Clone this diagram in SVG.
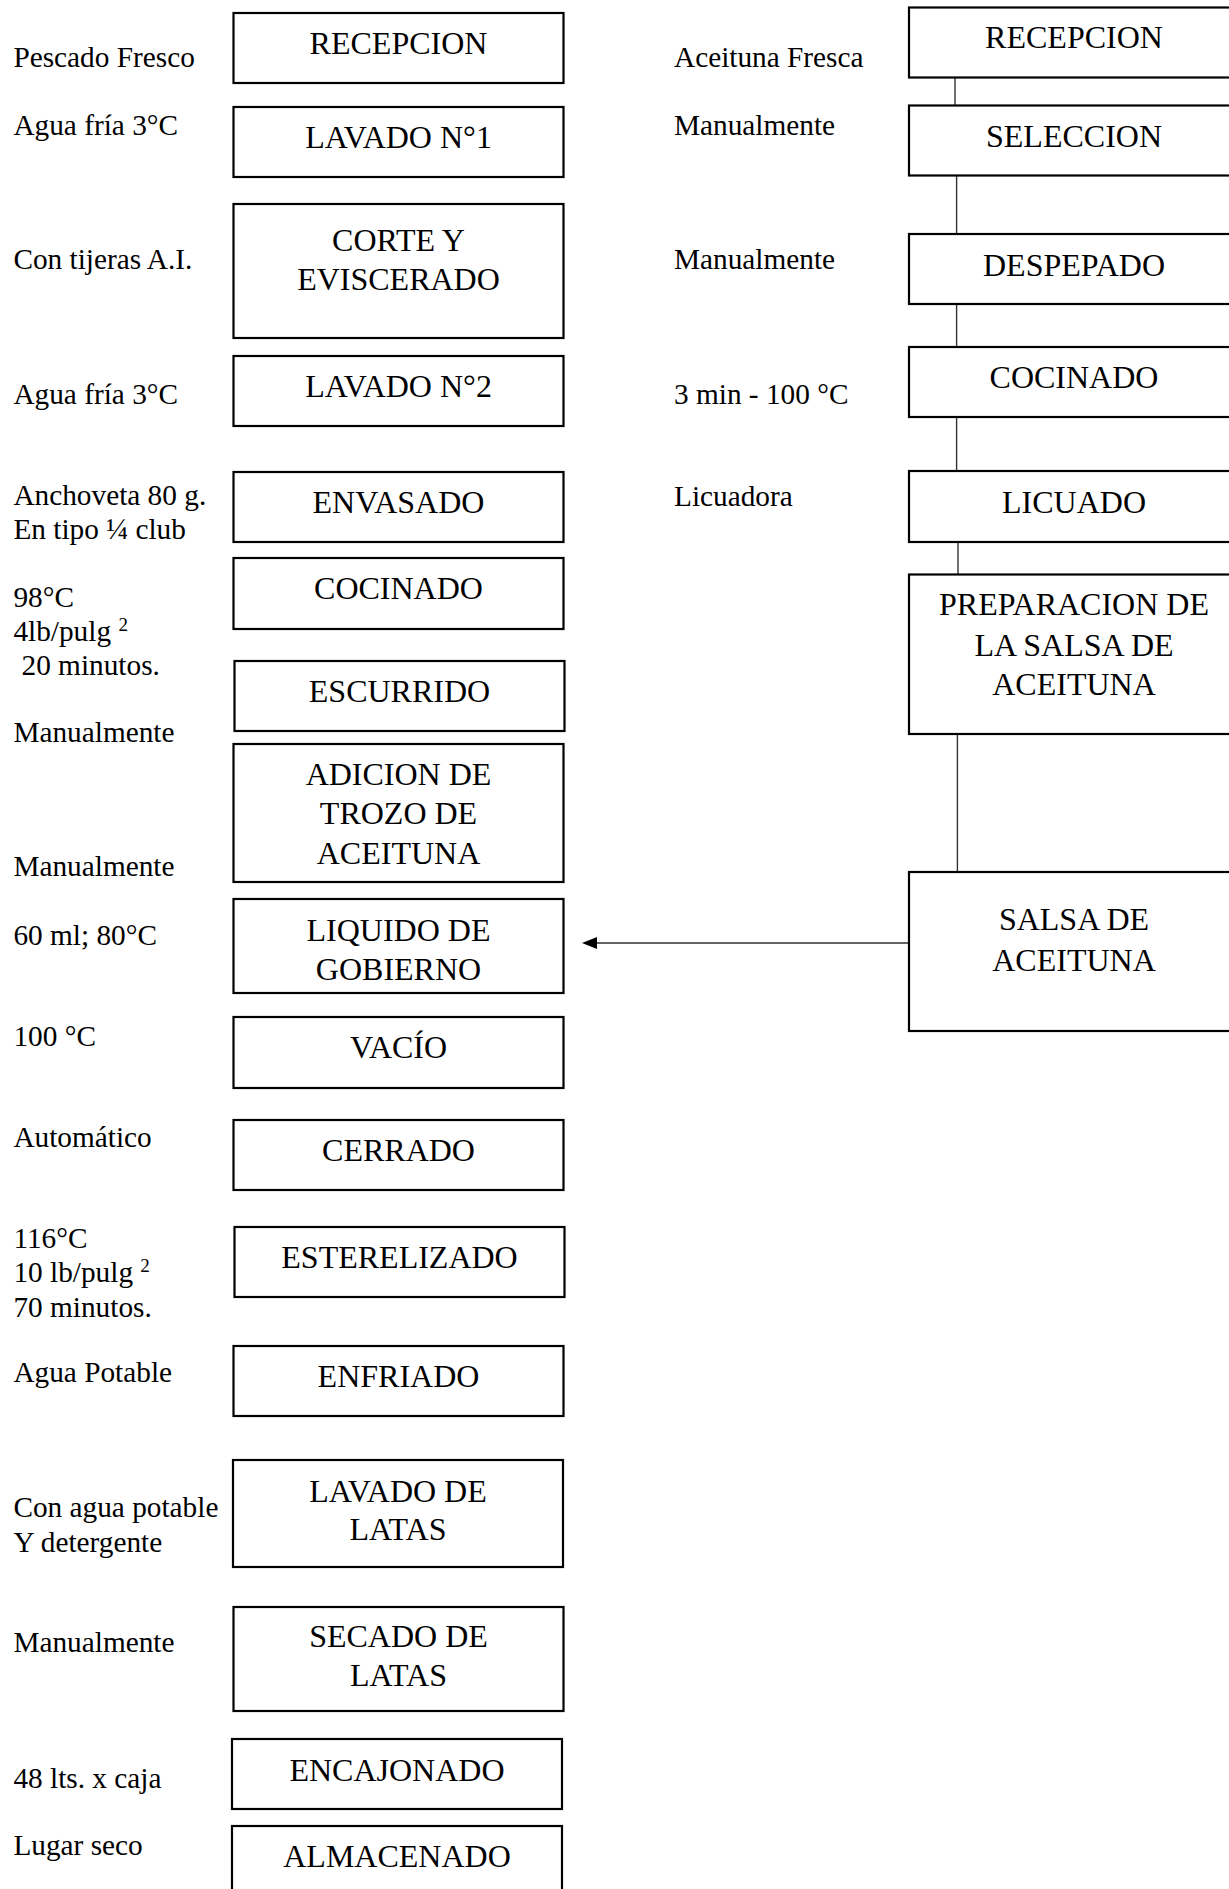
<svg xmlns="http://www.w3.org/2000/svg" width="1229" height="1889" viewBox="0 0 1229 1889">
<style>
.box{fill:#fff;stroke:#000;stroke-width:2.2}
.t{font-family:"Liberation Serif","Times New Roman",serif;font-size:32px;fill:#000;text-anchor:middle}
.l{font-family:"Liberation Serif","Times New Roman",serif;font-size:29.3px;fill:#000}
.sup{font-size:19px}
.c{stroke:#333;stroke-width:1.4;fill:none}
</style>
<defs>
<marker id="ah" viewBox="0 0 15 12" refX="0" refY="6" markerWidth="15" markerHeight="12" markerUnits="userSpaceOnUse" orient="auto-start-reverse">
<path d="M0,0 L15,6 L0,12 z" fill="#000"/>
</marker>
</defs>
<rect width="1229" height="1889" fill="#fff"/>

<g id="labels-left">
<text class="l" x="13.4" y="66.7">Pescado Fresco</text>
<text class="l" x="13.4" y="135">Agua fría 3°C</text>
<text class="l" x="13.4" y="269.3">Con tijeras A.I.</text>
<text class="l" x="13.4" y="404">Agua fría 3°C</text>
<text class="l" x="13.4" y="505">Anchoveta 80 g.</text>
<text class="l" x="13.4" y="539.3">En tipo ¼ club</text>
<text class="l" x="13.4" y="606.7">98°C</text>
<text class="l" x="13.4" y="640.7">4lb/pulg <tspan class="sup" dy="-10">2</tspan></text>
<text class="l" x="21.5" y="675">20 minutos.</text>
<text class="l" x="13.4" y="741.7">Manualmente</text>
<text class="l" x="13.4" y="875.7">Manualmente</text>
<text class="l" x="13.4" y="945">60 ml; 80°C</text>
<text class="l" x="13.4" y="1046">100 °C</text>
<text class="l" x="13.4" y="1146.7">Automático</text>
<text class="l" x="13.4" y="1248.3">116°C</text>
<text class="l" x="13.4" y="1281.7">10 lb/pulg <tspan class="sup" dy="-10">2</tspan></text>
<text class="l" x="13.4" y="1316.7">70 minutos.</text>
<text class="l" x="13.4" y="1381.7">Agua Potable</text>
<text class="l" x="13.4" y="1517.3">Con agua potable</text>
<text class="l" x="13.4" y="1551.7">Y detergente</text>
<text class="l" x="13.4" y="1652.3">Manualmente</text>
<text class="l" x="13.4" y="1788.3">48 lts. x caja</text>
<text class="l" x="13.4" y="1855">Lugar seco</text>
</g>

<g id="labels-right">
<text class="l" x="674" y="66.7">Aceituna Fresca</text>
<text class="l" x="674" y="135">Manualmente</text>
<text class="l" x="674" y="269.3">Manualmente</text>
<text class="l" x="674" y="404.3">3 min - 100 °C</text>
<text class="l" x="674" y="505.5">Licuadora</text>
</g>

<g id="connectors">
<line class="c" x1="955" y1="77" x2="955" y2="106"/>
<line class="c" x1="956.6" y1="174" x2="956.6" y2="234"/>
<line class="c" x1="956.6" y1="304" x2="956.6" y2="347"/>
<line class="c" x1="956.6" y1="417" x2="956.6" y2="471"/>
<line class="c" x1="958" y1="542" x2="958" y2="575"/>
<line class="c" x1="957.4" y1="734" x2="957.4" y2="872"/>
<line class="c" x1="909" y1="943" x2="597" y2="943" marker-end="url(#ah)"/>
</g>

<g id="n-recepcion"><rect class="box" x="233.5" y="13" width="330" height="70"/><text class="t" x="398.5" y="54">RECEPCION</text></g>
<g id="n-lavado1"><rect class="box" x="233.5" y="107" width="330" height="70"/><text class="t" x="398.5" y="147.7">LAVADO N°1</text></g>
<g id="n-corte"><rect class="box" x="233.5" y="204" width="330" height="134"/><text class="t" x="398.5" y="250.7">CORTE Y</text><text class="t" x="398.5" y="290">EVISCERADO</text></g>
<g id="n-lavado2"><rect class="box" x="233.5" y="356" width="330" height="70"/><text class="t" x="398.5" y="397.3">LAVADO N°2</text></g>
<g id="n-envasado"><rect class="box" x="233.5" y="472" width="330" height="70"/><text class="t" x="398.5" y="512.7">ENVASADO</text></g>
<g id="n-cocinado"><rect class="box" x="233.5" y="558" width="330" height="71"/><text class="t" x="398.5" y="599.3">COCINADO</text></g>
<g id="n-escurrido"><rect class="box" x="234.5" y="661" width="330" height="70"/><text class="t" x="399.5" y="702.3">ESCURRIDO</text></g>
<g id="n-adicion"><rect class="box" x="233.5" y="744" width="330" height="138"/><text class="t" x="398.5" y="785">ADICION DE</text><text class="t" x="398.5" y="824">TROZO DE</text><text class="t" x="398.5" y="864.3">ACEITUNA</text></g>
<g id="n-liquido"><rect class="box" x="233.5" y="899" width="330" height="94"/><text class="t" x="398.5" y="940.7">LIQUIDO DE</text><text class="t" x="398.5" y="980">GOBIERNO</text></g>
<g id="n-vacio"><rect class="box" x="233.5" y="1017" width="330" height="71"/><text class="t" x="398.5" y="1058.3">VACÍO</text></g>
<g id="n-cerrado"><rect class="box" x="233.5" y="1120" width="330" height="70"/><text class="t" x="398.5" y="1161">CERRADO</text></g>
<g id="n-esterelizado"><rect class="box" x="234.5" y="1227" width="330" height="70"/><text class="t" x="399.5" y="1267.7">ESTERELIZADO</text></g>
<g id="n-enfriado"><rect class="box" x="233.5" y="1346" width="330" height="70"/><text class="t" x="398.5" y="1386.7">ENFRIADO</text></g>
<g id="n-lavado-latas"><rect class="box" x="233" y="1460" width="330" height="107"/><text class="t" x="398" y="1501.7">LAVADO DE</text><text class="t" x="398" y="1540">LATAS</text></g>
<g id="n-secado-latas"><rect class="box" x="233.5" y="1607" width="330" height="104"/><text class="t" x="398.5" y="1647.3">SECADO DE</text><text class="t" x="398.5" y="1686">LATAS</text></g>
<g id="n-encajonado"><rect class="box" x="232" y="1739" width="330" height="70"/><text class="t" x="397" y="1780.7">ENCAJONADO</text></g>
<g id="n-almacenado"><rect class="box" x="232" y="1826" width="330" height="100"/><text class="t" x="397" y="1867.3">ALMACENADO</text></g>

<g id="r-recepcion"><rect class="box" x="909" y="7.5" width="330" height="70"/><text class="t" x="1074" y="48.3">RECEPCION</text></g>
<g id="r-seleccion"><rect class="box" x="909" y="105.5" width="330" height="70"/><text class="t" x="1074" y="146.7">SELECCION</text></g>
<g id="r-despepado"><rect class="box" x="909" y="234" width="330" height="70"/><text class="t" x="1074" y="276">DESPEPADO</text></g>
<g id="r-cocinado"><rect class="box" x="909" y="347" width="330" height="70"/><text class="t" x="1074" y="388.3">COCINADO</text></g>
<g id="r-licuado"><rect class="box" x="909" y="471" width="330" height="71"/><text class="t" x="1074" y="513">LICUADO</text></g>
<g id="r-preparacion"><rect class="box" x="909" y="574.5" width="330" height="159.5"/><text class="t" x="1074" y="615.3">PREPARACION DE</text><text class="t" x="1074" y="655.9">LA SALSA DE</text><text class="t" x="1074" y="694.9">ACEITUNA</text></g>
<g id="r-salsa"><rect class="box" x="909" y="872" width="330" height="159"/><text class="t" x="1074" y="930.3">SALSA DE</text><text class="t" x="1074" y="971.2">ACEITUNA</text></g>
</svg>
